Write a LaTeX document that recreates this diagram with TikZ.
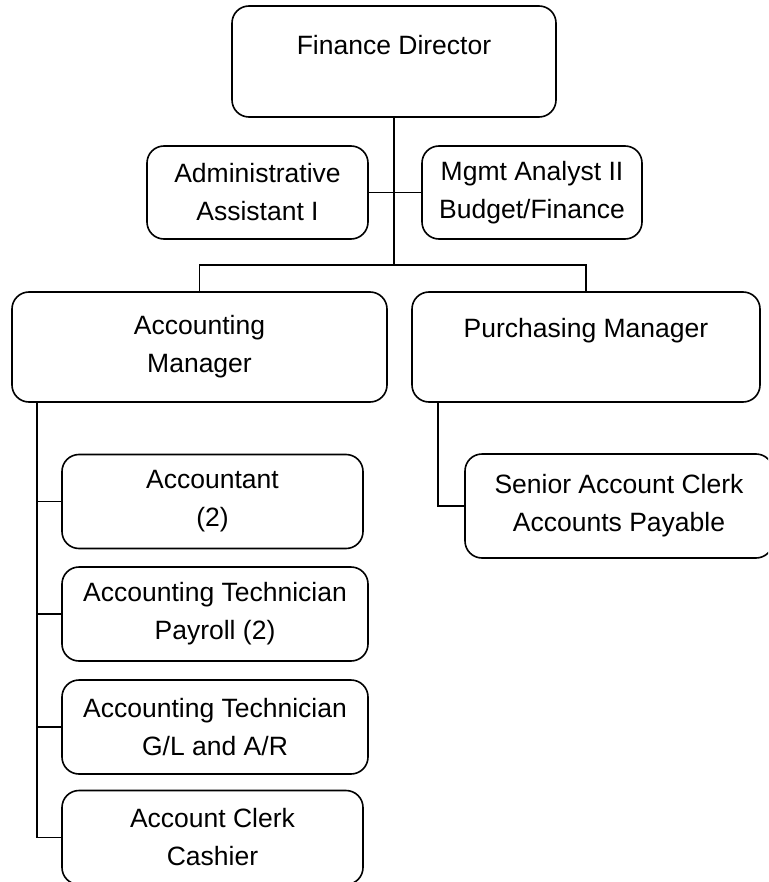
\documentclass[tikz,border=0pt]{standalone}
\usepackage{fontspec}
\setmainfont{Liberation Sans}
\begin{document}
\begin{tikzpicture}[x=1pt,y=-1pt,
  box/.style={draw, line width=1.6pt, rounded corners=17pt, inner sep=0pt, align=center,
    font=\fontsize{26.5}{38}\selectfont},
  link/.style={line width=1.6pt}]
\clip (0,0) rectangle (768,882);
\fill[white] (0,0) rectangle (768,882);
% nodes
\node[box, minimum width=324pt, minimum height=111pt] (fd) at (394,61.5) {\raisebox{-4pt}{Finance Director}\\\mbox{}};
\node[box, minimum width=221pt, minimum height=93pt] (adm) at (257.5,192.5) {Administrative\\Assistant I};
\node[box, minimum width=220pt, minimum height=93pt] (mg) at (532,192.5) {Mgmt Analyst II\\Budget/Finance};
\node[box, minimum width=375pt, minimum height=110pt] (am) at (199.5,347) {Accounting\\Manager};
\node[box, minimum width=348pt, minimum height=110pt] (pm) at (586,347) {Purchasing Manager\\\mbox{}};
\node[box, minimum width=301pt, minimum height=94pt] (acc) at (212.5,501.5) {Accountant\\(2)};
\node[box, minimum width=306pt, minimum height=94pt] (atp) at (215,614) {Accounting Technician\\Payroll (2)};
\node[box, minimum width=306pt, minimum height=94pt] (atg) at (215,727) {Accounting Technician\\G/L and A/R};
\node[box, minimum width=301pt, minimum height=94pt] (clk) at (212.5,837.5) {Account Clerk\\Cashier};
\node[box, minimum width=308pt, minimum height=104pt] (sen) at (619,506) {Senior Account Clerk\\Accounts Payable};
% connector points
\coordinate (bus) at (394,265);
\coordinate (s0) at (37,402);
\coordinate (p0) at (438,402);
% connectors
\draw[link] (fd.south) -- (bus);
\draw[link] (adm.east) -- (mg.west);
\draw[link] (am.north) |- (bus) -| (pm.north);
\draw[link] (s0) |- (clk.west);
\draw[link] (s0) |- (acc.west);
\draw[link] (s0) |- (atp.west);
\draw[link] (s0) |- (atg.west);
\draw[link] (p0) |- (sen.west);
\end{tikzpicture}
\end{document}
